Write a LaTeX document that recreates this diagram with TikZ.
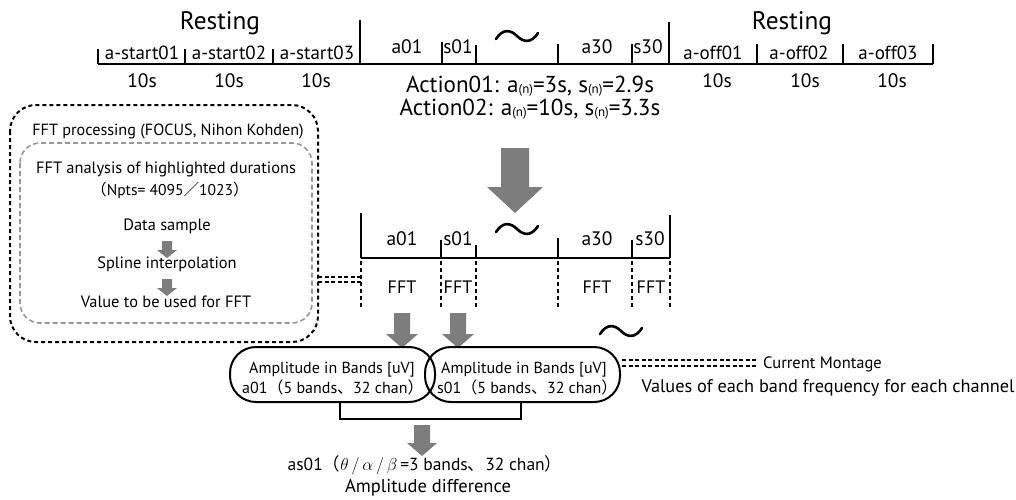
\documentclass[tikz,border=0pt]{standalone}
\usepackage{fontspec}
\setmainfont{PT Sans}
\newfontfamily\cjk{Noto Sans CJK JP}
\definecolor{arrgray}{RGB}{125,125,125}
\definecolor{boxgray}{RGB}{150,150,150}
\newcommand\fs[1]{\fontsize{#1}{#1}\selectfont}
\newcommand\subn{\raisebox{-1.5pt}{\fs{13}(n)}}
\newcommand\blockarrow[6]{%
  \fill[arrgray] (#1-#4,#2) -- (#1+#4,#2) -- (#1+#4,#3-#6) -- (#1+#5,#3-#6) -- (#1,#3) -- (#1-#5,#3-#6) -- (#1-#4,#3-#6) -- cycle;}
\begin{document}
\begin{tikzpicture}[x=1pt,y=-1pt,
  lab/.style={inner sep=0pt, anchor=base},
  tl/.style={line width=2pt},
  vdash/.style={line width=2pt, dash pattern=on 4pt off 3pt},
  hdash/.style={line width=1.6pt, dash pattern=on 4pt off 2.5pt},
  tilde/.pic={\draw[line width=2.6pt,line cap=round] (-21,3) .. controls (-14,-8) and (-6,-6) .. (0,0) .. controls (6,6) and (14,8) .. (21,-3);},
  rbox/.style={line width=2pt, rounded corners=26pt}]
\useasboundingbox (0,0) rectangle (1016,499);

% ---------- top timeline ----------
\draw[tl] (98,64) -- (933,64);
\foreach \x/\t in {98/49,185/49,273/49,360/20,442/42,476/45,558/44,632/44,669/22,757/44,843/44,933/44}
  \draw[tl] (\x,\t) -- (\x,64);
\node[lab,font=\fs{25.3}] (rest1) at (220,29) {Resting};
\node[lab,font=\fs{25.3}] (rest2) at (792,29) {Resting};
\foreach \x/\s in {142/a-start01,229/a-start02,317/a-start03,713/a-off01,799/a-off02,888/a-off03}
  \node[lab,font=\fs{19}] at (\x,59) {\s};
\foreach \x in {142,229,316,717,805,892}
  \node[lab,font=\fs{19.5}] at (\x,87) {10s};
\foreach \x/\s in {407/a01,458/s01,597/a30,648/s30}
  \node[lab,font=\fs{19.5}] at (\x,53) {\s};
\pic at (517,36) {tilde};
\node[lab,font=\fs{23.1}] (act1) at (530,92) {Action01: a\subn=3s, s\subn=2.9s};
\node[lab,font=\fs{23.1}] (act2) at (530,115) {Action02: a\subn=10s, s\subn=3.3s};

% big arrow
\blockarrow{515}{148}{213}{14}{28}{26}

% ---------- second timeline ----------
\draw[tl] (361,258) -- (670,258);
\foreach \x/\t in {361/213,441/240,476/245,558/238,632/240,670/215}{
  \draw[tl] (\x,\t) -- (\x,258);
  \draw[vdash] (\x,261) -- (\x,307);}
\foreach \x/\s in {402/a01,458/s01,597/a30,650/s30}
  \node[lab,font=\fs{19.5}] at (\x,245) {\s};
\foreach \x in {402,458,597,651}
  \node[lab,font=\fs{18}] at (\x,293) {FFT};
\pic at (517,229) {tilde};
\pic at (621,331) {tilde};

% small arrows
\blockarrow{402}{313}{348}{8}{16}{14}
\blockarrow{458}{313}{348}{8}{16}{14}

% ---------- left processing box ----------
\draw[line width=2pt, dash pattern=on 4pt off 3pt, rounded corners=26pt] (10,105) rectangle (318,342);
\draw[boxgray, line width=1.6pt, dash pattern=on 5pt off 3pt, rounded corners=20pt] (20,143) rectangle (312,323);
\node[lab,font=\fs{16.2}] (proc) at (168,135) {FFT processing (FOCUS, Nihon Kohden)};
\node[lab,font=\fs{16.4}] (anal) at (166,173) {FFT analysis of highlighted durations};
\node[lab,font=\fs{15.6}] (npts) at (170,195) {{\cjk（}Npts= 4095{\cjk／}1023{\cjk）}};
\node[lab,font=\fs{16.4}] (samp) at (167,230) {Data sample};
\node[lab,font=\fs{16.4}] (spl) at (167,268) {Spline interpolation};
\node[lab,font=\fs{16.4}] (val) at (166,307) {Value to be used for FFT};
\blockarrow{167}{241}{258}{5}{10}{8}
\blockarrow{167}{279}{296}{5}{10}{8}

% double dashed connector
\draw[hdash] (318,277) -- (361,277);
\draw[hdash] (318,282) -- (361,282);

% ---------- amplitude boxes ----------
\draw[rbox] (230,347) rectangle (435,402);
\draw[rbox] (425,347) rectangle (620,402);
\node[lab,font=\fs{16}] (b1a) at (332,373) {Amplitude in Bands [uV]};
\node[lab,font=\fs{16},anchor=base west] (b1b) at (242,393) {a01{\cjk（}5 bands{\cjk、}32 chan{\cjk）}};
\node[lab,font=\fs{16},anchor=base west] (b2a) at (441,373) {Amplitude in Bands [uV]};
\node[lab,font=\fs{16},anchor=base west] (b2b) at (437,393) {s01{\cjk（}5 bands{\cjk、}32 chan{\cjk）}};

% bracket and arrow
\draw[tl] (340,402) -- (340,419) -- (521,419) -- (521,402);
\blockarrow{422}{425}{456}{8}{15}{13}
\node[lab,font=\fs{17.5}] (as) at (425,470) {as01{\cjk（}$\theta\,/\,\alpha\,/\,\beta$\,=3 bands{\cjk、}32 chan{\cjk）}};
\node[lab,font=\fs{18.5}] (diff) at (428,492) {Amplitude difference};

% current montage
\draw[hdash] (622,360) -- (758,360);
\draw[hdash] (622,366) -- (758,366);
\node[lab,font=\fs{16.5},anchor=base west] (cm) at (763,368) {Current Montage};
\node[lab,font=\fs{18.3}] (vals) at (828,392) {Values of each band frequency for each channel};
\end{tikzpicture}
\end{document}
